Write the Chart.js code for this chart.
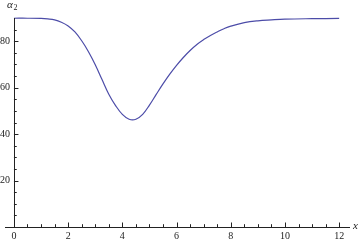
<!DOCTYPE html>
<html>
<head>
<meta charset="utf-8">
<script src="https://cdn.jsdelivr.net/npm/chart.js@4"></script>
<style>
html,body{margin:0;padding:0;background:#fff;}
#wrap{width:360px;height:242px;position:relative;}
</style>
</head>
<body>
<div id="wrap"><canvas id="c" width="360" height="242"></canvas></div>
<script>
// Data
const xValues = [0, 0.5, 1, 1.25, 1.5, 1.75, 2, 2.25, 2.5, 2.75, 3, 3.25, 3.5, 3.75, 4, 4.25, 4.5, 4.75, 5, 5.25, 5.5, 5.75, 6, 6.25, 6.5, 6.75, 7, 7.25, 7.5, 7.75, 8, 8.5, 9, 9.5, 10, 11, 12];
const alpha2 = [89.9, 89.9, 89.8, 89.6, 89.2, 88.2, 86.6, 84.0, 80.2, 75.5, 69.9, 63.5, 57.2, 52.3, 48.5, 46.4, 46.4, 48.5, 52.5, 57.1, 61.6, 65.8, 69.6, 73.0, 76.0, 78.6, 80.7, 82.5, 84.0, 85.4, 86.5, 88.0, 88.8, 89.2, 89.5, 89.7, 89.8];
const xTickLabels = ["0", "2", "4", "6", "8", "10", "12"];
const yTickLabels = ["20", "40", "60", "80"];

const points = xValues.map((x, i) => ({x: x, y: alpha2[i]}));

const axesPlugin = {
  id: 'mmaAxes',
  afterDraw(chart) {
    const ctx = chart.ctx;
    const xs = chart.scales.x, ys = chart.scales.y;
    const x0 = xs.getPixelForValue(0), y0 = ys.getPixelForValue(0);
    ctx.save();
    ctx.strokeStyle = '#222';
    ctx.lineWidth = 1;
    ctx.beginPath();
    ctx.moveTo(chart.chartArea.left, Math.round(y0) + 0.5);
    ctx.lineTo(chart.chartArea.right, Math.round(y0) + 0.5);
    ctx.stroke();
    ctx.beginPath();
    ctx.moveTo(Math.round(x0) + 0.5, ys.getPixelForValue(90));
    ctx.lineTo(Math.round(x0) + 0.5, y0);
    ctx.stroke();
    for (let v = 0; v <= 12.001; v += 0.5) {
      const px = Math.round(xs.getPixelForValue(v)) + 0.5;
      const major = Math.abs(v / 2 - Math.round(v / 2)) < 1e-6;
      const len = major ? 4.5 : 2.8;
      ctx.beginPath();
      ctx.moveTo(px, y0);
      ctx.lineTo(px, y0 - len);
      ctx.stroke();
    }
    for (let v = 5; v <= 85.001; v += 5) {
      const py = Math.round(ys.getPixelForValue(v)) + 0.5;
      const major = v % 20 === 0;
      const len = major ? 4.5 : 2.8;
      ctx.beginPath();
      ctx.moveTo(x0, py);
      ctx.lineTo(x0 + len, py);
      ctx.stroke();
    }
    ctx.fillStyle = '#222';
    ctx.font = '10px "Liberation Serif", "DejaVu Serif", serif';
    ctx.textAlign = 'center';
    ctx.textBaseline = 'top';
    xTickLabels.forEach(t => {
      ctx.fillText(t, xs.getPixelForValue(parseFloat(t)), y0 + 4);
    });
    ctx.textAlign = 'right';
    ctx.textBaseline = 'middle';
    yTickLabels.forEach(t => {
      ctx.fillText(t, x0 - 4, ys.getPixelForValue(parseFloat(t)));
    });
    ctx.font = 'italic 11px "Liberation Serif", "DejaVu Serif", serif';
    ctx.textAlign = 'left';
    ctx.textBaseline = 'middle';
    ctx.fillText('x', chart.chartArea.right + 3, y0 - 1);
    ctx.fillText('\u03B1', x0 - 7, 5);
    ctx.font = '8px "Liberation Serif", "DejaVu Serif", serif';
    ctx.fillText('2', x0 - 0.5, 8);
    ctx.restore();
  }
};

new Chart(document.getElementById('c'), {
  type: 'line',
  data: {
    datasets: [{
      data: points,
      borderColor: 'rgb(76,76,168)',
      borderWidth: 1.2,
      pointRadius: 0,
      fill: false,
      tension: 0.4,
      clip: false
    }]
  },
  options: {
    responsive: false,
    animation: false,
    events: [],
    layout: {padding: {left: 5, right: 10, top: 18, bottom: 15}},
    plugins: {legend: {display: false}, tooltip: {enabled: false}},
    scales: {
      x: {type: 'linear', min: -0.33, max: 12.4, display: false},
      y: {type: 'linear', min: 0, max: 90, display: false}
    }
  },
  plugins: [axesPlugin]
});
</script>
</body>
</html>
